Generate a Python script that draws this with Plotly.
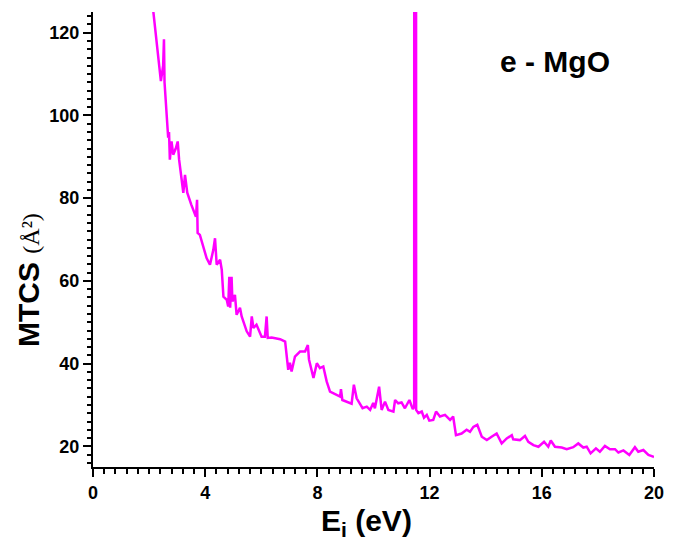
import plotly.graph_objects as go

energy = [2.12, 2.15, 2.30, 2.42, 2.50, 2.53, 2.55, 2.66, 2.68, 2.71, 2.74, 2.80, 2.86, 2.95, 3.02, 3.07,
          3.22, 3.28, 3.36, 3.50, 3.67, 3.71, 3.73, 3.81, 3.96, 4.05, 4.17, 4.29, 4.35, 4.37, 4.41, 4.53,
          4.59, 4.65, 4.77, 4.82, 4.86, 4.89, 4.94, 4.97, 5.06, 5.12, 5.24, 5.30, 5.48, 5.60, 5.66, 5.72,
          5.83, 6.01, 6.13, 6.19, 6.23, 6.37, 6.67, 6.85, 6.96, 7.02, 7.08, 7.20, 7.38, 7.56, 7.66, 7.70,
          7.86, 7.98, 8.09, 8.21, 8.33, 8.45, 8.69, 8.81, 8.84, 8.89, 9.22, 9.30, 9.40, 9.52, 9.61, 9.76,
          9.88, 9.99, 10.05, 10.20, 10.29, 10.41, 10.53, 10.71, 10.77, 10.88, 11.00, 11.12, 11.28, 11.40,
          11.45, 11.46, 11.51, 11.52, 11.60, 11.72, 11.80, 11.90, 11.99, 12.13, 12.23, 12.37, 12.55, 12.73,
          12.84, 12.94, 13.14, 13.32, 13.44, 13.56, 13.70, 13.86, 14.04, 14.21, 14.39, 14.57, 14.75, 14.93,
          14.98, 15.22, 15.40, 15.52, 15.70, 15.88, 16.08, 16.23, 16.32, 16.47, 16.71, 16.89, 17.12, 17.30,
          17.48, 17.60, 17.74, 17.93, 18.07, 18.25, 18.43, 18.61, 18.73, 18.91, 19.12, 19.32, 19.44, 19.62,
          19.80, 19.97, 20.00]
mtcs = [127.0, 125.0, 116.0, 108.3, 112.0, 118.4, 108.0, 97.3, 94.6, 96.0, 89.3, 93.7, 90.5, 92.0, 93.7, 89.3,
        81.3, 85.6, 81.3, 78.5, 75.5, 79.6, 71.6, 71.1, 67.7, 65.5, 63.9, 67.5, 70.3, 67.5, 63.9, 65.1,
        62.7, 56.2, 55.4, 53.8, 61.0, 53.5, 61.0, 55.0, 56.6, 51.8, 53.5, 51.4, 47.8, 46.5, 51.4, 48.6,
        49.4, 46.5, 46.5, 51.4, 46.2, 46.3, 45.9, 45.3, 38.5, 40.2, 38.1, 41.7, 42.9, 42.9, 44.5, 41.0,
        36.5, 40.1, 38.9, 39.3, 35.7, 33.2, 32.4, 32.0, 33.8, 31.2, 30.3, 34.9, 31.6, 30.4, 29.2, 29.6,
        28.8, 30.5, 29.2, 34.4, 28.8, 30.8, 28.8, 28.4, 31.2, 30.4, 30.6, 29.2, 31.2, 29.0,
        29.5, 400.0, 400.0, 28.8, 28.0, 28.4, 26.9, 27.6, 26.2, 26.4, 28.4, 27.2, 27.6, 26.4,
        27.2, 22.7, 23.1, 24.0, 23.5, 24.7, 25.2, 22.3, 21.5, 22.3, 23.1, 20.7, 21.9, 22.7,
        21.7, 21.5, 22.5, 21.1, 20.3, 19.9, 21.1, 19.9, 21.4, 19.9, 19.7, 19.3, 19.8, 20.7,
        19.7, 19.9, 18.3, 19.5, 18.7, 20.1, 19.3, 19.3, 18.5, 19.0, 17.9, 19.8, 18.7, 19.1,
        17.9, 17.5, 17.4]

x_ticks = [0, 4, 8, 12, 16, 20]
y_ticks = [20, 40, 60, 80, 100, 120]

fig = go.Figure()
fig.add_trace(go.Scatter(x=energy, y=mtcs, mode="lines",
                         line=dict(color="#FF00FF", width=2.5), showlegend=False))

font_main = "Liberation Sans, Arial, sans-serif"

fig.update_layout(
    width=663, height=530,
    margin=dict(l=85, r=17, t=4, b=71),
    paper_bgcolor="white", plot_bgcolor="white",
    font=dict(family=font_main, color="black"),
    xaxis=dict(range=[0, 20], tickvals=x_ticks, ticktext=[str(v) for v in x_ticks],
               ticks="outside", ticklen=8, tickwidth=2, tickcolor="black",
               minor=dict(dtick=0.4, ticks="outside", ticklen=5, tickwidth=1.5, tickcolor="black"),
               showline=True, linewidth=2, linecolor="black", showgrid=False, zeroline=False,
               tickfont=dict(size=18, family=font_main, weight="bold")),
    yaxis=dict(range=[15, 125], tickvals=y_ticks, ticktext=[str(v) for v in y_ticks],
               ticks="outside", ticklen=8, tickwidth=2, tickcolor="black",
               minor=dict(dtick=2, tick0=0, ticks="outside", ticklen=4, tickwidth=1.5, tickcolor="black"),
               showline=True, linewidth=2, linecolor="black", showgrid=False, zeroline=False,
               tickfont=dict(size=18, family=font_main, weight="bold")),
    xaxis2=dict(range=[0, 20], overlaying="x", side="top", anchor="y", dtick=2,
                ticks="inside", ticklen=3, tickwidth=1.5, tickcolor="black",
                showticklabels=False, showline=True, linewidth=2, linecolor="black",
                showgrid=False, zeroline=False),
    yaxis2=dict(range=[0, 10], overlaying="y", side="right", anchor="x", dtick=1,
                ticks="inside", ticklen=4, tickwidth=1.5, tickcolor="black",
                showticklabels=False, showline=True, linewidth=2, linecolor="black",
                showgrid=False, zeroline=False),
    annotations=[
        dict(text="<b>e - MgO</b>", xref="paper", yref="paper", x=0.823, y=0.892,
             xanchor="center", yanchor="middle", showarrow=False,
             font=dict(size=30, family=font_main, color="black")),
        dict(text="<b>MTCS</b> <span style='font-family:Liberation Serif, Times New Roman, serif;font-weight:normal;font-size:24px'>(Å²)</span>",
             xref="paper", yref="paper", x=-0.115, y=0.412, textangle=-90,
             xanchor="center", yanchor="middle", showarrow=False,
             font=dict(size=30, family=font_main, color="black")),
        dict(text="<b>E<sub>i</sub> (eV)</b>", xref="paper", yref="paper", x=0.488, y=-0.122,
             xanchor="center", yanchor="middle", showarrow=False,
             font=dict(size=30, family=font_main, color="black")),
    ],
)

fig.write_html("out.html")
